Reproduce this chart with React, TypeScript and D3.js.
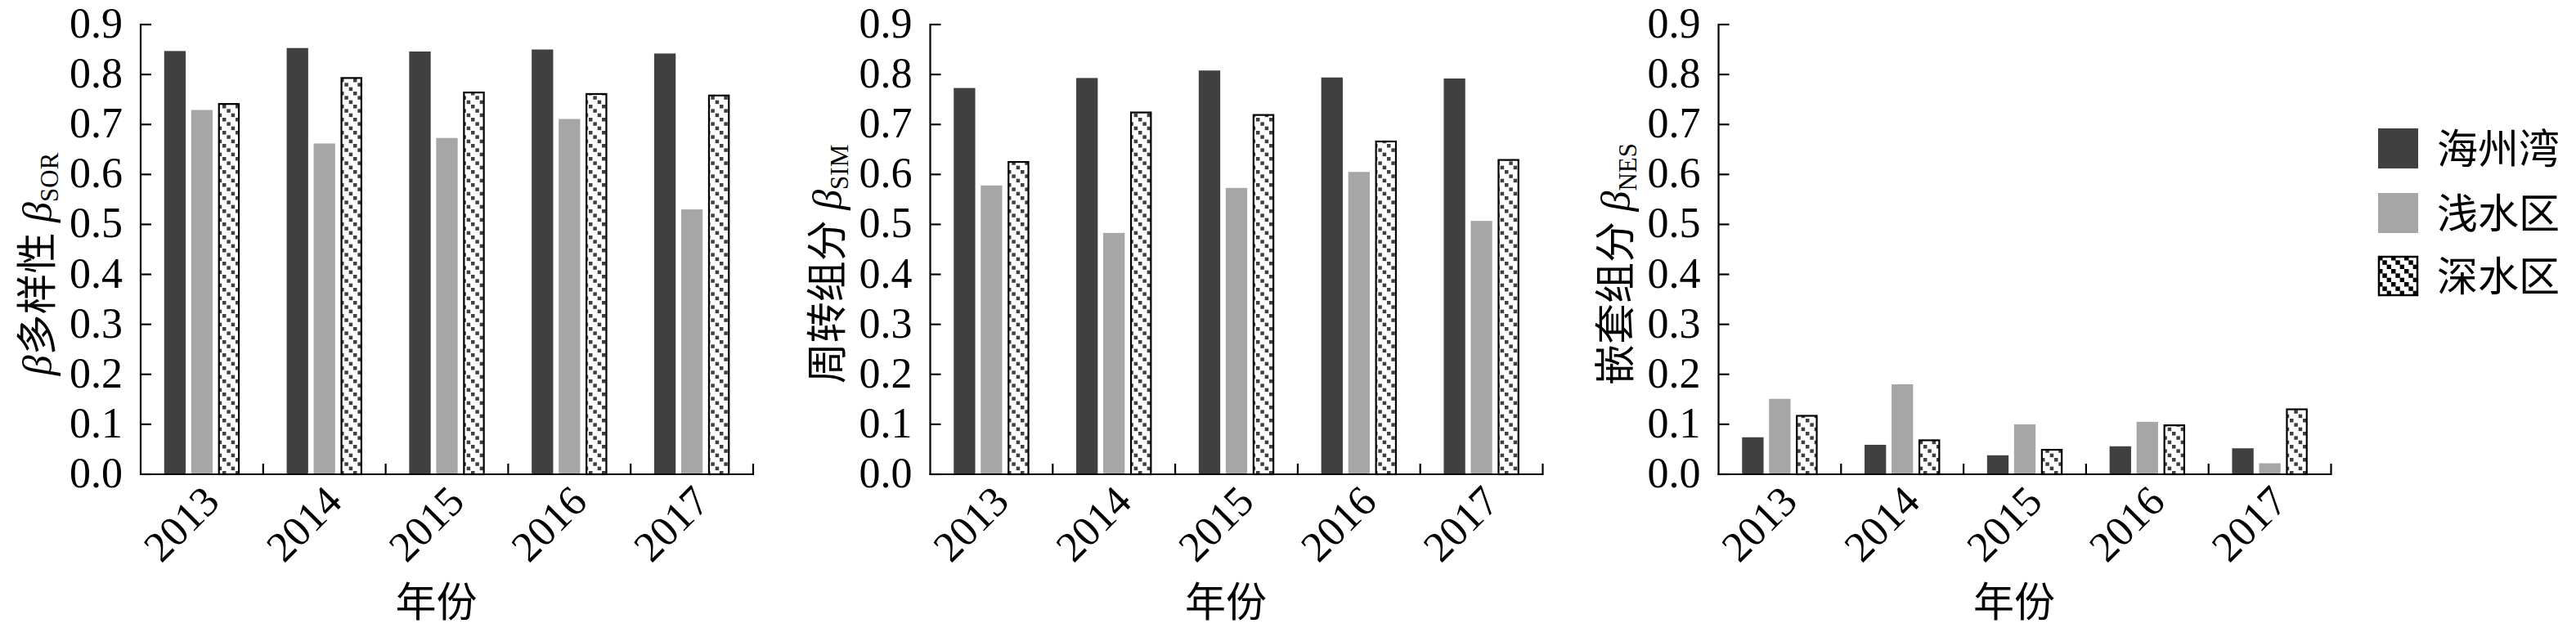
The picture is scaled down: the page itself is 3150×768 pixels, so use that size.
import React from 'react';
import * as d3 from 'd3';

const years = ['2013', '2014', '2015', '2016', '2017'];
const seriesNames = ['海州湾', '浅水区', '深水区'];
const yTicks = [0, 0.1, 0.2, 0.3, 0.4, 0.5, 0.6, 0.7, 0.8, 0.9];

const sorHaizhou = [0.847, 0.853, 0.846, 0.850, 0.842];
const sorShallow = [0.729, 0.662, 0.673, 0.711, 0.530];
const sorDeep = [0.741, 0.793, 0.764, 0.761, 0.758];

const simHaizhou = [0.773, 0.793, 0.808, 0.794, 0.792];
const simShallow = [0.578, 0.483, 0.573, 0.605, 0.507];
const simDeep = [0.625, 0.724, 0.719, 0.666, 0.629];

const nesHaizhou = [0.074, 0.059, 0.038, 0.056, 0.052];
const nesShallow = [0.151, 0.180, 0.100, 0.105, 0.022];
const nesDeep = [0.117, 0.068, 0.049, 0.098, 0.130];

const panels = [
  { cn: '多样性', sub: 'SOR', betaFirst: true, data: [sorHaizhou, sorShallow, sorDeep] },
  { cn: '周转组分', sub: 'SIM', betaFirst: false, data: [simHaizhou, simShallow, simDeep] },
  { cn: '嵌套组分', sub: 'NES', betaFirst: false, data: [nesHaizhou, nesShallow, nesDeep] },
];

const SERIF = 'Liberation Serif, Times New Roman, DejaVu Serif, serif';
const CJK = 'Liberation Serif, Noto Sans CJK SC, serif';
const DARK = '#404040';
const GRAY = '#a6a6a6';

const panelX = [172, 1137.5, 2101.5];
const axisW = 749;
const yBottom = 580;
const yTop = 30;

function Panel({ p, x0 }: { p: any; x0: number }) {
  const x = d3.scaleBand<string>().domain(years).range([x0, x0 + axisW]).paddingInner(0).paddingOuter(0);
  const xs = d3.scaleBand<string>().domain(seriesNames).range([0, x.bandwidth()]).paddingInner(0.203).paddingOuter(0.871);
  const y = d3.scaleLinear().domain([0, 0.9]).range([yBottom, yTop]);
  const fills = [DARK, GRAY, 'url(#hatch)'];
  const boundaries = years.slice(1).map((yr) => x(yr)!).concat([x0 + axisW]);
  const titleCx = x0 + axisW / 2 - 13;
  return (
    <g>
      {p.data.map((vals: number[], si: number) =>
        vals.map((v, i) => {
          const bx = x(years[i])! + xs(seriesNames[si])!;
          const bw = xs.bandwidth();
          if (si === 2) {
            return (
              <rect key={`${si}-${i}`} x={bx + 1} y={y(v)} width={bw - 2} height={yBottom - y(v)}
                fill={fills[si]} stroke="#000" strokeWidth={2.2} />
            );
          }
          return <rect key={`${si}-${i}`} x={bx} y={y(v)} width={bw} height={yBottom - y(v)} fill={fills[si]} />;
        })
      )}
      <line x1={x0} x2={x0} y1={yTop - 1} y2={yBottom + 1} stroke="#000" strokeWidth={2.2} />
      {yTicks.map((t) => (
        <g key={t}>
          <line x1={x0} x2={x0 + 13} y1={y(t)} y2={y(t)} stroke="#000" strokeWidth={2.2} />
          <text x={x0 - 22} y={y(t) + 16} textAnchor="end" fill="#000"
            style={{ fontFamily: SERIF, fontSize: '52px' }}>
            {d3.format('.1f')(t)}
          </text>
        </g>
      ))}
      <line x1={x0 - 1} x2={x0 + axisW + 1} y1={yBottom} y2={yBottom} stroke="#000" strokeWidth={2.2} />
      {boundaries.map((bx, i) => (
        <line key={i} x1={bx} x2={bx} y1={yBottom} y2={yBottom - 13} stroke="#000" strokeWidth={2.2} />
      ))}
      {years.map((yr) => {
        const cx = x(yr)! + x.bandwidth() / 2;
        return (
          <text key={yr} transform={`translate(${cx + 24},${616}) rotate(-45)`} textAnchor="end" fill="#000"
            style={{ fontFamily: SERIF, fontSize: '52px' }}>
            {yr}
          </text>
        );
      })}
      <text x={titleCx} y={754} textAnchor="middle" fill="#000" style={{ fontFamily: CJK, fontSize: '50px' }}>年份</text>
      <text transform={`translate(${x0 - 109},${323}) rotate(-90)`} textAnchor="middle" fill="#000"
        style={{ fontFamily: CJK, fontSize: '50px' }}>
        {p.betaFirst ? <tspan style={{ fontStyle: 'italic', fontFamily: SERIF }}>β</tspan> : null}
        <tspan>{p.cn} </tspan>
        <tspan style={{ fontStyle: 'italic', fontFamily: SERIF }}>β</tspan>
        <tspan dy={8} style={{ fontSize: '31px', fontFamily: SERIF }}>{p.sub}</tspan>
      </text>
    </g>
  );
}

export default function App() {
  const legendY = [157, 236, 313];
  const legendFills = [DARK, GRAY, 'url(#hatchL)'];
  return (
    <svg width={3150} height={768} style={{ position: 'absolute', left: 0, top: 0, background: '#fff' }}>
      <defs>
        <pattern id="hatch" width={16} height={16} patternUnits="userSpaceOnUse">
          <rect width={16} height={16} fill="#fff" />
          <rect x={0} y={0} width={4.5} height={4.5} fill={DARK} />
          <rect x={5.33} y={5.33} width={4.5} height={4.5} fill={DARK} />
          <rect x={10.67} y={10.67} width={4.5} height={4.5} fill={DARK} />
        </pattern>
        <pattern id="hatchL" width={16} height={16} patternUnits="userSpaceOnUse" x={2908} y={313}>
          <rect width={16} height={16} fill="#fff" />
          <rect x={0} y={0} width={5.5} height={5.5} fill="#000" />
          <rect x={5.33} y={5.33} width={5.5} height={5.5} fill="#000" />
          <rect x={10.67} y={10.67} width={5.5} height={5.5} fill="#000" />
        </pattern>
      </defs>
      <rect width={3150} height={768} fill="#fff" />
      {panels.map((p, i) => (
        <Panel key={i} p={p} x0={panelX[i]} />
      ))}
      {seriesNames.map((s, i) => (
        <g key={s}>
          {i === 2 ? (
            <rect x={2909} y={legendY[i] + 1} width={47} height={47} fill={legendFills[i]} stroke="#000" strokeWidth={2.5} />
          ) : (
            <rect x={2908} y={legendY[i]} width={49} height={49} fill={legendFills[i]} />
          )}
          <text x={2980} y={legendY[i] + 24.5 + 18} fill="#000" style={{ fontFamily: CJK, fontSize: '50px' }}>{s}</text>
        </g>
      ))}
    </svg>
  );
}
